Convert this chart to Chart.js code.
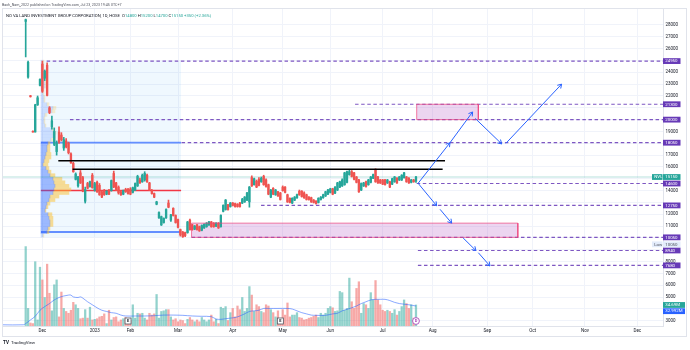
<!DOCTYPE html>
<html>
<head>
<meta charset="utf-8">
<title>NVL 1D - TradingView idea</title>
<script src="https://cdn.jsdelivr.net/npm/chart.js@4.4.0/dist/chart.umd.min.js"></script>
<style>
  html, body { margin: 0; padding: 0; background: #ffffff; }
  #wrap { width: 690px; height: 350px; }
</style>
</head>
<body>
<div id="wrap"><canvas id="chart" width="690" height="350"></canvas></div>
<script>
// ============================================
// Data (daily bars, index 0 = late Nov 2022)
// ============================================

const openData = [
  28300,23600,22000,19000,18950,21250,22900,24700,23500,24600,
  21000,19400,17900,17300,18950,18700,17600,18200,18000,17100,
  16300,14950,14400,15500,15100,13100,14600,14350,15300,14050,
  14700,14450,13900,14000,13700,14000,14000,15450,14650,14300,
  13900,13700,14100,14100,14150,13850,14050,14400,14900,14750,
  14900,15300,14650,14000,13750,12850,11700,11100,11300,11700,
  12950,11500,12500,11900,11550,10700,10500,10450,10450,11500,
  11100,10750,11100,10950,10650,10850,10950,11100,11350,11250,
  11000,11250,10950,12250,12400,12800,12650,12950,12900,12850,
  12950,12950,13050,13200,13050,15100,14500,14800,14950,14750,
  15200,14900,14500,13450,14200,13650,13900,13800,14300,14300,
  13650,13350,12950,13200,13400,13950,13950,13800,13650,13450,
  13400,13200,13100,13000,13250,13400,13550,13700,13850,14150,
  13800,14050,14300,14400,14500,14700,15350,15600,15500,15150,
  14900,14050,14400,14750,14500,14700,15050,15750,15150,14900,
  14900,14900,14650,14750,14550,14750,15050,14900,14900,15100,
  15150,15050,14700,14900,14800
];
const highData = [
  28500,24950,22050,19050,21300,22000,23450,24950,24200,24800,
  21100,20300,19300,18200,19400,18900,18500,18400,18100,17200,
  16400,15500,15200,15700,15200,14300,14700,14800,15450,14700,
  14800,14600,14000,14100,14000,14100,14900,15650,14700,14400,
  14000,14050,14200,14200,14250,14300,14650,15300,15050,15400,
  15600,15400,14700,14100,13800,13100,12200,11850,11700,12450,
  13200,12000,12550,11950,11600,10750,10550,10500,11400,11600,
  11150,11050,11150,11000,11100,11200,11300,11400,11400,11300,
  11300,11300,11950,12800,13250,12850,13000,13000,12950,12900,
  13000,13350,13500,13850,14350,15250,15050,14900,15100,15150,
  15300,15000,14550,14100,14250,14100,13950,13850,14400,14350,
  13700,13400,13400,13500,13700,14050,14000,13900,13700,13500,
  13450,13250,13150,13400,13500,13700,13950,14100,14200,14200,
  14350,14700,14800,15000,15550,15650,15800,15700,15550,15200,
  14950,14650,14700,14800,14950,15200,15400,15850,15200,14950,
  14950,14950,14950,14800,15050,15200,15100,15200,15350,15550,
  15200,15100,14950,14950,15200
];
const lowData = [
  25300,23500,21900,18950,18950,21200,22850,22300,23300,22000,
  20500,19200,17800,17000,18000,18200,17400,17600,17100,16300,
  15550,14900,14300,14600,13900,12950,14150,14300,14200,13950,
  13850,13600,13400,13600,13650,13650,13950,14250,14000,13700,
  13600,13650,13850,13700,13650,13800,14000,14350,14600,14700,
  14800,14700,14000,13700,13400,12800,11650,11050,11250,11650,
  12550,11400,11850,11250,10850,10150,10050,10100,10400,10650,
  10650,10700,10650,10550,10600,10800,10900,11050,10900,10900,
  10950,10800,10900,12200,12350,12350,12600,12700,12600,12600,
  12600,12900,13000,13150,12600,14350,14450,14250,14400,14700,
  14450,14300,13650,13400,13650,13600,13500,13200,13950,13800,
  13000,12950,12900,13150,13350,13600,13450,13350,13200,13200,
  13000,12950,12850,12950,13200,13350,13500,13650,13800,13650,
  13750,14000,14250,14350,14450,14650,15300,15150,14900,14650,
  13850,14000,14350,14300,14450,14650,15000,14700,14600,14600,
  14500,14450,14600,14250,14500,14700,14600,14850,14850,15050,
  14700,14600,14650,14700,14700
];
const closeData = [
  28450,24850,21950,18950,21250,21850,23400,22400,24100,22050,
  20600,19900,19000,18000,18100,18300,18300,17700,17200,16350,
  15600,15400,15150,14650,13950,14100,14200,14750,14250,14600,
  13900,13650,13450,13650,13950,13700,14850,14300,14100,13800,
  13650,14000,13900,13750,13700,14250,14600,15200,14650,15300,
  15450,14750,14050,13750,13450,13050,12150,11800,11650,12400,
  12600,11950,11900,11300,10900,10250,10100,10200,11350,10700,
  10700,11000,10700,10600,11050,11150,11250,11350,10950,10950,
  11250,10850,11900,12750,13200,12400,12950,12750,12650,12650,
  12650,13250,13450,13800,14300,14400,15000,14300,14450,15050,
  14500,14350,13700,14050,13700,14050,13550,13250,14000,13850,
  13050,13000,13350,13450,13650,13650,13500,13400,13250,13250,
  13050,13000,12900,13350,13450,13650,13900,14050,14150,13700,
  14300,14650,14750,14900,15500,15600,15600,15200,14950,14700,
  13900,14600,14650,14350,14900,15150,15350,14750,14650,14650,
  14550,14500,14900,14300,15000,15150,14650,15150,15300,15500,
  14750,14650,14900,14750,15150
];
// volume in millions of shares
const volumeData = [
  131,29,5,4,106,10,97,76,47,102,
  54,25,68,76,15,56,29,24,21,26,
  39,35,29,12,13,27,13,31,10,11,
  12,15,16,20,4,26,10,14,15,7,
  10,12,14,8,9,35,13,21,20,21,
  13,10,21,18,20,52,13,24,25,27,
  27,15,10,12,7,10,9,4,11,14,
  10,7,10,7,14,10,7,10,18,7,
  11,4,31,29,32,9,22,29,15,33,
  27,47,24,29,65,51,24,35,32,24,
  22,35,33,27,22,15,25,10,27,18,
  38,15,18,18,22,14,13,10,11,13,
  14,16,18,14,21,18,21,29,32,30,
  24,25,57,55,26,29,79,40,29,62,
  73,21,37,35,29,55,43,75,43,35,
  26,24,26,24,21,27,18,24,32,43,
  37,29,35,13,34.69
];
// volume moving average
const volMaIdx = [
  -10,-1,0,2,4,6,8,10,12,14,
  16,18,19,20,22,23,24,26,28,30,
  32,34,36,38,40,42,46,50,54,58,
  62,66,70,74,78,80,82,84,86,88,
  90,92,94,96,98,100,102,106,110,112,
  114,116,118,120,122,126,129,131,133,135,
  137,139,141,143,145,147,149,151,153,155,
  157,159,161,164
];
const volMaData = [
  2,2,4,10,16,26,32,37,43,47,
  49.5,51,51,48,47,48,46,40,35,30,
  26,24,22,21,18,16.5,16.5,16.5,17,18,
  18,17.6,16.5,16,15.4,11.5,11,12,13,14,
  16.5,20,24,25,26,29,29,29,29,28,
  25,22,20,18,17.6,17.6,20,21,25,27.5,
  30,33,37,40,43,44,44,44,42,39,
  37,36,35,32.99
];

// time axis
const monthTickIdx = [7, 29, 44, 64, 87, 108, 128, 150, 171, 194, 213, 235, 257];
const monthLabels = ['Dec', '2023', 'Feb', 'Mar', 'Apr', 'May', 'Jun', 'Jul', 'Aug', 'Sep', 'Oct', 'Nov', 'Dec'];

// price axis
const priceTicks = [28000, 27000, 26000, 25000, 24000, 23000, 22000, 21000, 20000, 19000,
  18000, 17000, 16000, 15000, 14000, 13000, 12000, 11000, 10000, 9000,
  8000, 7000, 6000, 5000, 4000, 3000];
const priceLabelsShown = [28000, 27000, 26000, 24000, 23000, 22000, 19000, 17000, 16000,
  14000, 12000, 11000, 8000, 7000, 6000, 5000, 3000];

// fixed range volume profile (rows of 300)
const profilePrices = [
  10200,10500,10800,11100,11400,11700,12000,12300,12600,12900,
  13200,13500,13800,14100,14400,14700,15000,15300,15600,15900,
  16200,16500,16800,17100,17400,17700,18000,18300,18600,18900,
  19200,19500,19800,20100,20400,20700,21000,21300,21600,21900,
  22200,22500,22800,23100,23400,23700,24000,24300,24600,24900
];
const profileUp = [
  20,60,70,90,90,80,70,40,50,60,
  80,90,120,130,140,130,120,90,70,50,
  20,30,40,50,60,60,70,100,120,120,
  110,40,30,30,40,110,120,60,30,30,
  20,20,40,40,30,20,20,20,20,20
];
const profileDown = [
  10,20,20,30,30,40,40,10,20,30,
  60,90,160,170,140,110,90,50,30,30,
  50,50,60,50,30,30,20,20,20,30,
  20,10,10,10,20,30,30,20,10,10,
  10,10,10,10,10,10,10,10,10,10
];
const profileFrom = 6.4, profileTo = 65.3;
const profileHigh = 24950, profileLow = 10050;
const valueAreaHigh = 18050, valueAreaLow = 10500, pocPrice = 14000;

// drawings: dashed levels (price, first bar)
const levelPrices = [24950, 21300, 20000, 18050, 14600, 12750, 10050, 8940, 7680];
const levelFrom = [8.8, 138.4, 18.6, 65.5, 164.3, 98.9, 69.7, 164.8, 164.8];
// black resistance lines
const blackPrices = [16530, 15800];
const blackFrom = [13.7, 19.7];
const blackTo = [176.2, 175.2];
// rectangles
const zoneTop = [21300, 11250];
const zoneBottom = [20000, 10050];
const zoneFrom = [164.3, 69.7];
const zoneTo = [190.2, 206.8];
// arrows
const arrowFromIdx = [164.9, 178.3, 188.9, 201.8, 164.9, 174.1, 183.8, 190.2];
const arrowFromPrice = [14620, 18050, 20100, 18000, 14620, 12420, 10000, 8750];
const arrowToIdx = [178.3, 187.8, 200.0, 225.2, 172.7, 179.0, 189.2, 195.1];
const arrowToPrice = [18050, 20650, 17950, 23000, 12720, 11250, 8930, 7630];

// event markers on the time axis
const earningsIdx = [43, 107];
const dividendIdx = [164];

// ============================================
// Styles
// ============================================

const FONT = "Roboto, 'Liberation Sans', sans-serif";
const UP = '#26a69a';
const DOWN = '#ef5350';
const PURPLE = '#673ab7';
const BLUE = '#2962ff';
const X_MIN = -9.54, X_MAX = 267.8;
const Y_MIN = 2556, Y_MAX = 29352;
const VOL_MAX = 523;
const PROFILE_BARS_PER_M = 0.042;

// ============================================
// Build datasets
// ============================================

const barIdx = openData.map((_, i) => i);
const isUp = barIdx.map(i => closeData[i] >= openData[i]);
const lastClose = closeData[closeData.length - 1];

const datasets = [];

// volume profile backdrop
datasets.push({
    type: 'line', order: 100,
    data: [{x: profileFrom, y: profileHigh}, {x: profileTo, y: profileHigh}],
    borderWidth: 0, pointRadius: 0,
    backgroundColor: 'rgba(33,150,243,0.07)',
    fill: {value: profileLow}
});

// rectangles (fill)
zoneTop.forEach((top, k) => {
    datasets.push({
        type: 'line', order: 95,
        data: [{x: zoneFrom[k], y: top}, {x: zoneTo[k], y: top}],
        borderWidth: 0, pointRadius: 0,
        backgroundColor: 'rgba(186,104,200,0.28)',
        fill: {value: zoneBottom[k]}
    });
});

// volume
datasets.push({
    type: 'bar', order: 90, yAxisID: 'yv', grouped: false,
    barThickness: 1.6, maxBarThickness: 1.6,
    data: barIdx.map(i => ({x: i, y: volumeData[i]})),
    backgroundColor: barIdx.map(i => isUp[i] ? 'rgba(38,166,154,0.5)' : 'rgba(239,83,80,0.5)'),
    borderWidth: 0
});
datasets.push({
    type: 'line', order: 85, yAxisID: 'yv',
    data: volMaIdx.map((x, k) => ({x, y: volMaData[k]})),
    borderColor: 'rgba(41,98,255,0.55)', borderWidth: 1,
    pointRadius: 0, tension: 0.35, fill: false
});

// profile lines: VAH, VAL, POC
[[valueAreaHigh, 'rgba(41,98,255,0.7)', 1.8], [valueAreaLow, 'rgba(41,98,255,0.7)', 1.8], [pocPrice, '#f23645', 1.5]]
    .forEach(([p, c, w]) => {
        datasets.push({
            type: 'line', order: 80,
            data: [{x: profileFrom, y: p}, {x: profileTo, y: p}],
            borderColor: c, borderWidth: w, pointRadius: 0, fill: false
        });
    });

// profile rows (horizontal floating bars)
const inValueArea = p => p >= valueAreaLow && p <= valueAreaHigh;
datasets.push({
    type: 'bar', order: 75, indexAxis: 'y', grouped: false,
    barThickness: 3, maxBarThickness: 3,
    data: profilePrices.map((p, k) => ({
        y: p, x: [profileFrom, profileFrom + profileUp[k] * PROFILE_BARS_PER_M]
    })),
    backgroundColor: profilePrices.map(p => inValueArea(p) ? 'rgba(41,98,255,0.42)' : 'rgba(41,98,255,0.18)'),
    borderWidth: 0
});
datasets.push({
    type: 'bar', order: 75, indexAxis: 'y', grouped: false,
    barThickness: 3, maxBarThickness: 3,
    data: profilePrices.map((p, k) => ({
        y: p,
        x: [profileFrom + profileUp[k] * PROFILE_BARS_PER_M,
            profileFrom + (profileUp[k] + profileDown[k]) * PROFILE_BARS_PER_M]
    })),
    backgroundColor: profilePrices.map(p => inValueArea(p) ? 'rgba(251,192,45,0.5)' : 'rgba(251,192,45,0.22)'),
    borderWidth: 0
});

// last price line
datasets.push({
    type: 'line', order: 72,
    data: [{x: X_MIN, y: lastClose}, {x: X_MAX, y: lastClose}],
    borderColor: 'rgba(38,166,154,0.22)', borderWidth: 1.5, pointRadius: 0, fill: false
});

// candles: wicks then bodies
datasets.push({
    type: 'bar', order: 70, grouped: false,
    barThickness: 1, maxBarThickness: 1,
    data: barIdx.map(i => ({x: i, y: [lowData[i], highData[i]]})),
    backgroundColor: barIdx.map(i => isUp[i] ? UP : DOWN),
    borderWidth: 0
});
datasets.push({
    type: 'bar', order: 65, grouped: false,
    barThickness: 1.7, maxBarThickness: 1.7, minBarLength: 0.8,
    data: barIdx.map(i => ({x: i, y: [openData[i], closeData[i]]})),
    backgroundColor: barIdx.map(i => isUp[i] ? UP : DOWN),
    borderWidth: 0
});

// dashed levels
levelPrices.forEach((p, k) => {
    datasets.push({
        type: 'line', order: 60,
        data: [{x: levelFrom[k], y: p}, {x: X_MAX, y: p}],
        borderColor: '#7e57c2', borderWidth: 1.2, borderDash: [3.5, 2.6],
        pointRadius: 0, fill: false
    });
});

// black lines
blackPrices.forEach((p, k) => {
    datasets.push({
        type: 'line', order: 55,
        data: [{x: blackFrom[k], y: p}, {x: blackTo[k], y: p}],
        borderColor: '#000000', borderWidth: 1.5, pointRadius: 0, fill: false
    });
});

// rectangles (border)
zoneTop.forEach((top, k) => {
    const bot = zoneBottom[k], a = zoneFrom[k], b = zoneTo[k];
    datasets.push({
        type: 'line', order: 50,
        data: [{x: a, y: top}, {x: b, y: top}, {x: b, y: bot}, {x: a, y: bot}, {x: a, y: top}],
        borderColor: 'rgba(236,64,122,0.7)', borderWidth: 1, pointRadius: 0, fill: false
    });
});

// arrows
arrowFromIdx.forEach((x0, k) => {
    datasets.push({
        type: 'line', order: 40, arrowHead: true,
        data: [{x: x0, y: arrowFromPrice[k]}, {x: arrowToIdx[k], y: arrowToPrice[k]}],
        borderColor: BLUE, borderWidth: 1, pointRadius: 0, fill: false
    });
});

// ============================================
// Overlay plugin: arrowheads, axis tags, texts
// ============================================

function drawTag(ctx, y, text, bg, fg, x, w) {
    ctx.fillStyle = bg;
    ctx.fillRect(x, y - 2.9, w, 5.8);
    ctx.fillStyle = fg;
    ctx.textAlign = 'left';
    ctx.textBaseline = 'middle';
    ctx.fillText(text, x + 2.2, y + 0.2);
}

const overlayPlugin = {
    id: 'tvOverlay',

    afterDatasetsDraw(chart) {
        const ctx = chart.ctx;
        chart.data.datasets.forEach((ds, di) => {
            if (!ds.arrowHead) return;
            const pts = chart.getDatasetMeta(di).data;
            const a = pts[pts.length - 2];
            const b = pts[pts.length - 1];
            const ang = Math.atan2(b.y - a.y, b.x - a.x);
            ctx.save();
            ctx.strokeStyle = ds.borderColor;
            ctx.lineWidth = 1;
            ctx.beginPath();
            [-0.55, 0.55].forEach(d => {
                ctx.moveTo(b.x, b.y);
                ctx.lineTo(b.x - 4.5 * Math.cos(ang + d), b.y - 4.5 * Math.sin(ang + d));
            });
            ctx.stroke();
            ctx.restore();
        });
    },

    afterDraw(chart) {
        const ctx = chart.ctx;
        const area = chart.chartArea;
        const ys = chart.scales.y;
        const yv = chart.scales.yv;
        const xs = chart.scales.x;

        ctx.save();

        // frame
        ctx.strokeStyle = '#e0e3eb';
        ctx.lineWidth = 1;
        ctx.strokeRect(2.5, 8.5, 684, 328);

        // event markers
        ctx.font = `bold 4px ${FONT}`;
        ctx.textAlign = 'center';
        ctx.textBaseline = 'middle';
        earningsIdx.forEach(i => {
            const x = xs.getPixelForValue(i);
            ctx.fillStyle = '#ffffff';
            ctx.fillRect(x - 3, area.bottom - 8, 6, 6);
            ctx.strokeStyle = '#50535e';
            ctx.lineWidth = 0.8;
            ctx.strokeRect(x - 3, area.bottom - 8, 6, 6);
            ctx.fillStyle = '#131722';
            ctx.fillText('E', x, area.bottom - 4.8);
        });
        dividendIdx.forEach(i => {
            const x = xs.getPixelForValue(i);
            ctx.fillStyle = '#ffffff';
            ctx.beginPath();
            ctx.arc(x, area.bottom - 5, 3.4, 0, Math.PI * 2);
            ctx.fill();
            ctx.strokeStyle = '#ab47bc';
            ctx.lineWidth = 0.9;
            ctx.stroke();
            ctx.fillStyle = '#ab47bc';
            ctx.fillText('D', x, area.bottom - 4.8);
        });

        // price axis tags
        ctx.font = `4.4px ${FONT}`;
        const tagX = area.right;
        levelPrices.forEach(p => {
            drawTag(ctx, ys.getPixelForValue(p), String(p), PURPLE, '#ffffff', tagX, 17.5);
        });
        const yLast = ys.getPixelForValue(lastClose);
        drawTag(ctx, yLast, String(lastClose), UP, '#ffffff', tagX, 17.5);
        drawTag(ctx, yLast, 'NVL', UP, '#ffffff', tagX - 11, 10.5);

        const yLow = ys.getPixelForValue(profileLow) + 7;
        drawTag(ctx, yLow, '10050', '#e3ecfb', '#50535e', tagX, 17.5);
        drawTag(ctx, yLow, 'Low', '#e3ecfb', '#50535e', tagX - 11, 10.5);

        const lastVol = volumeData[volumeData.length - 1];
        const lastMa = volMaData[volMaData.length - 1];
        const yVol = yv.getPixelForValue(lastVol);
        const yMa = Math.max(yv.getPixelForValue(lastMa), yVol + 6.2);
        drawTag(ctx, yVol, lastVol.toFixed(2) + 'M', UP, '#ffffff', tagX, 22);
        drawTag(ctx, yMa, '32.992M', BLUE, '#ffffff', tagX, 22);

        // header
        ctx.textAlign = 'left';
        ctx.textBaseline = 'middle';
        ctx.font = `3.6px ${FONT}`;
        ctx.fillStyle = '#50535e';
        ctx.fillText('Bach_Nam_2022 published on TradingView.com, Jul 23, 2023 19:45 UTC+7', 2, 5);

        ctx.font = `4.2px ${FONT}`;
        const parts = [
            ['NO VA LAND INVESTMENT GROUP CORPORATION, 1D, HOSE  ', '#131722'],
            ['O', '#131722'], ['14800 ', UP],
            ['H', '#131722'], ['15200 ', UP],
            ['L', '#131722'], ['14700 ', UP],
            ['C', '#131722'], ['15150 ', UP],
            ['+350 (+2.36%)', UP]
        ];
        let x = 6;
        parts.forEach(([t, c]) => {
            ctx.fillStyle = c;
            ctx.fillText(t, x, 15.5);
            x += ctx.measureText(t).width;
        });

        // logo
        ctx.font = `bold 4.6px ${FONT}`;
        ctx.fillStyle = '#131722';
        ctx.fillText('TV', 3, 343);
        ctx.font = `4.4px ${FONT}`;
        ctx.fillText('TradingView', 11, 343);

        ctx.restore();
    }
};

// ============================================
// Chart
// ============================================

new Chart(document.getElementById('chart').getContext('2d'), {
    type: 'bar',
    data: {datasets},
    plugins: [overlayPlugin],
    options: {
        responsive: false,
        animation: false,
        devicePixelRatio: 1,
        layout: {padding: {left: 3, top: 9, right: 0, bottom: 0}},
        plugins: {
            legend: {display: false},
            tooltip: {enabled: false}
        },
        scales: {
            x: {
                type: 'linear',
                min: X_MIN, max: X_MAX,
                offset: false,
                grid: {color: '#f0f3fa', offset: false, drawTicks: false},
                border: {display: true, color: '#e0e3eb'},
                afterBuildTicks: s => { s.ticks = monthTickIdx.map(v => ({value: v})); },
                afterFit: s => { s.height = 24; },
                ticks: {
                    autoSkip: false, maxRotation: 0, padding: 2.2,
                    color: '#131722',
                    font: {family: FONT, size: 4.5},
                    callback: (v, idx) => monthLabels[idx]
                }
            },
            y: {
                type: 'linear',
                position: 'right',
                min: Y_MIN, max: Y_MAX,
                offset: false,
                grid: {color: '#f0f3fa', offset: false, drawTicks: false},
                border: {display: true, color: '#e0e3eb'},
                afterBuildTicks: s => { s.ticks = priceTicks.map(v => ({value: v})); },
                afterFit: s => { s.width = 27; },
                ticks: {
                    autoSkip: false, padding: 2.5,
                    color: '#131722',
                    font: {family: FONT, size: 4.5},
                    callback: v => priceLabelsShown.includes(v) ? String(v) : ''
                }
            },
            yv: {
                type: 'linear',
                display: false,
                min: 0, max: VOL_MAX,
                offset: false,
                grid: {display: false, offset: false}
            }
        }
    }
});
</script>
</body>
</html>
